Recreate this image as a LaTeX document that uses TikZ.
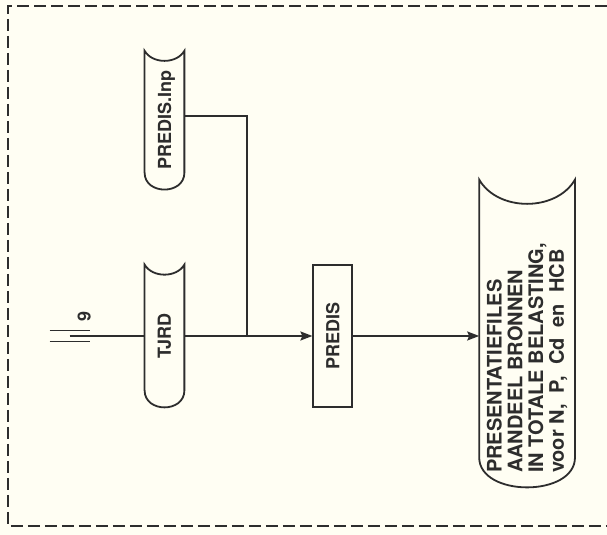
\documentclass[tikz,border=0pt]{standalone}
\usepackage{fontspec}
\setmainfont{TeX Gyre Heros}
\usepackage{graphicx}
\usetikzlibrary{arrows.meta,positioning,calc}
\definecolor{papier}{RGB}{255,254,243}
\definecolor{inkt}{RGB}{45,45,45}

% outline of a stored-data symbol round a node: concave top, rounded bottom
\newcommand{\storeedge}[2]{%
  \draw[outline] ($(#1.south east)+(0,#2)$) -- (#1.north east)
    to[bend left=60] (#1.north west)
    -- ($(#1.south west)+(0,#2)$)
    .. controls ($(#1.south west)+(0,-#2/3)$) and ($(#1.south east)+(0,-#2/3)$) .. ($(#1.south east)+(0,#2)$)
    -- cycle;}

\begin{document}
\begin{tikzpicture}[
        node distance=1cm,
        store/.style={inner sep=0pt, minimum width=19.5pt, text=inkt, font=\bfseries\fontsize{9}{10}\selectfont},
        proc/.style={draw=inkt, line width=0.9pt, inner sep=0pt, minimum width=19.5pt, minimum height=71pt, text=inkt, font=\bfseries\fontsize{9}{10}\selectfont},
        outline/.style={draw=inkt, line width=0.9pt},
        arr/.style={-{Stealth[length=6pt,width=4.5pt,inset=1pt]}, draw=inkt, fill=inkt, line width=0.9pt},
        frame/.style={draw=inkt, dash pattern=on 6pt off 2.5pt, line width=1.1pt}
    ]

    \fill[papier] (-82.25pt,-99.5pt) rectangle (221.25pt,168pt);
    \useasboundingbox (-82.25pt,-99.5pt) rectangle (221.25pt,168pt);

    \node[store, minimum height=71pt] (tjrd) {\rotatebox{90}{TJRD}};
    \node[store, minimum height=69pt, above=37.5pt of tjrd] (inp) {\rotatebox{90}{PREDIS.In\smash{p}}};
    \node[proc, right=64pt of tjrd] (predis) {\rotatebox{90}{PREDIS}};
    \node[store, minimum width=47.5pt, minimum height=153.5pt, right=63pt of predis, yshift=1.25pt,
          font=\bfseries\fontsize{10}{10.4}\selectfont] (out)
        {\rotatebox{90}{\parbox{139.5pt}{\raggedright PRESENTATIEFILES\\AANDEEL BRONNEN\\IN TOTALE BELASTING,\\voor N,\ \ P,\ \ Cd\ \ en\ \ HCB}}};

    \storeedge{tjrd}{8.5pt}
    \storeedge{inp}{8.5pt}
    \storeedge{out}{15pt}

    % input from sheet 9
    \coordinate (in9) at ($(tjrd.west)+(-37.5pt,0)$);
    \draw[outline] ($(tjrd.west)+(-47.5pt,2.75pt)$) -- +(20pt,0);
    \draw[outline] ($(tjrd.west)+(-47.5pt,-2.75pt)$) -- +(20pt,0);
    \node[store, minimum width=0pt] (nine) at ($(tjrd.west)+(-30.25pt,9.5pt)$) {\rotatebox{90}{9}};
    \draw[outline] (in9) -- (tjrd.west);

    \coordinate (join) at ($(tjrd.east)!0.49!(predis.west)$);
    \draw[outline] ([yshift=2pt]inp.east) -| (join);
    \draw[arr] (tjrd.east) -- (predis.west);
    \draw[arr] (predis.east) -- (predis.east -| out.west);

    \draw[frame] (221.25pt,165pt) -| (-78.25pt,-95pt) -- (221.25pt,-95pt);

\end{tikzpicture}
\end{document}
